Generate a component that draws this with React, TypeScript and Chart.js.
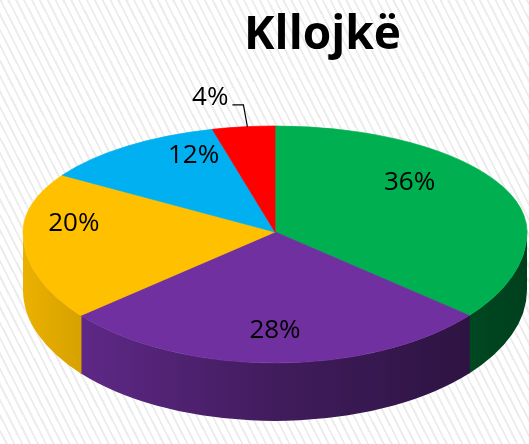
import React, { useEffect, useRef } from "react";
import { Chart, registerables } from "chart.js";

Chart.register(...registerables);

// ---- data ----
const categories = ["Kategoria 1", "Kategoria 2", "Kategoria 3", "Kategoria 4", "Kategoria 5"];
const values = [36, 28, 20, 12, 4];
const sliceColors = ["#00B050", "#7030A0", "#FFC000", "#00B0F0", "#FF0000"];
const percentLabels = ["36%", "28%", "20%", "12%", "4%"];
const chartTitle = "Kllojkë";

// ---- 3D look (layout / style) ----
const CENTER_X = 275;
const CENTER_Y = 232;
const RADIUS = 252;
const RY_BACK = 106; // half-height of the far half of the top face
const RY_FRONT = 131; // half-height of the near half of the top face
const DEPTH = 58;
const LABEL_RADIUS = [0.59, 0.755, 0.8, 0.55, 1];
const LABEL_LIFT = 16;
const LABEL_FONT = "26px 'Open Sans', sans-serif";

function shade(hex: string, f: number): string {
  const n = parseInt(hex.slice(1), 16);
  const r = Math.round(((n >> 16) & 255) * f);
  const g = Math.round(((n >> 8) & 255) * f);
  const b = Math.round((n & 255) * f);
  return `rgb(${r},${g},${b})`;
}

let transformed = false;

function applyHalf(ctx: CanvasRenderingContext2D, arc: any, ry: number, front: boolean, w: number, h: number) {
  ctx.beginPath();
  if (front) ctx.rect(0, CENTER_Y - 0.5, w, h);
  else ctx.rect(0, 0, w, CENTER_Y + 0.5);
  ctx.clip();
  ctx.translate(CENTER_X, CENTER_Y);
  ctx.scale(1, ry / arc.outerRadius);
  ctx.translate(-arc.x, -arc.y);
}

const pie3dPlugin = {
  id: "pie3d",
  beforeDatasetsDraw(chart: any) {
    const meta = chart.getDatasetMeta(0);
    const arcs = meta.data as any[];
    if (!arcs.length) return;
    const ctx: CanvasRenderingContext2D = chart.ctx;
    const R = arcs[0].outerRadius;
    const bg = chart.data.datasets[0].backgroundColor as string[];
    const W = chart.width;
    const H = chart.height;

    // side wall of the near half
    ctx.save();
    arcs.forEach((arc, i) => {
      const a = Math.max(arc.startAngle - 0.004, 0);
      const b = Math.min(arc.endAngle + 0.004, Math.PI);
      if (b <= a) return;
      const g = ctx.createLinearGradient(CENTER_X - R, 0, CENTER_X + R, 0);
      const stops: [number, number][] = [
        [0, 0.92],
        [0.12, 0.84],
        [0.5, 0.58],
        [1, 0.36],
      ];
      stops.forEach(([t, f]) => g.addColorStop(t, shade(bg[i], f)));
      ctx.beginPath();
      ctx.ellipse(CENTER_X, CENTER_Y, R, RY_FRONT, 0, a, b, false);
      ctx.ellipse(CENTER_X, CENTER_Y + DEPTH, R, RY_FRONT, 0, b, a, true);
      ctx.closePath();
      ctx.fillStyle = g;
      ctx.fill();
    });
    ctx.restore();

    // near half of the top face
    ctx.save();
    applyHalf(ctx, arcs[0], RY_FRONT, true, W, H);
    arcs.forEach((arc) => arc.draw(ctx, chart.chartArea));
    ctx.restore();

    // far half of the top face: drawn by Chart.js's own dataset pass
    ctx.save();
    applyHalf(ctx, arcs[0], RY_BACK, false, W, H);
    transformed = true;
  },
  afterDatasetsDraw(chart: any) {
    const ctx: CanvasRenderingContext2D = chart.ctx;
    if (transformed) {
      ctx.restore();
      transformed = false;
    }
    const meta = chart.getDatasetMeta(0);
    const arcs = meta.data as any[];
    if (!arcs.length) return;
    const total = values.reduce((s, v) => s + v, 0);
    ctx.save();
    ctx.font = LABEL_FONT;
    ctx.fillStyle = "#000";
    ctx.strokeStyle = "#000";
    ctx.lineWidth = 1.2;
    ctx.textBaseline = "middle";
    arcs.forEach((arc, i) => {
      const R = arc.outerRadius;
      const m = (arc.startAngle + arc.endAngle) / 2;
      const s = Math.sin(m);
      const ry = s > 0 ? RY_FRONT : RY_BACK;
      const share = values[i] / total;
      if (share < 0.06) {
        const ex = CENTER_X + R * Math.cos(m);
        const ey = CENTER_Y + ry * s;
        ctx.beginPath();
        ctx.moveTo(ex + 4, ey);
        ctx.lineTo(ex, ey - 22);
        ctx.lineTo(ex - 11, ey - 22);
        ctx.stroke();
        ctx.textAlign = "right";
        ctx.fillText(percentLabels[i], ex - 15, ey - 29);
      } else {
        const f = LABEL_RADIUS[i];
        const lift = -LABEL_LIFT * (1 - s);
        const x = CENTER_X + R * f * Math.cos(m);
        const y = CENTER_Y + ry * f * s + lift;
        ctx.textAlign = "center";
        ctx.fillText(percentLabels[i], x, y);
      }
    });
    ctx.restore();
  },
};

export default function App() {
  const canvasRef = useRef<HTMLCanvasElement | null>(null);

  useEffect(() => {
    if (!canvasRef.current) return;
    const chart = new Chart(canvasRef.current, {
      type: "pie",
      data: {
        labels: categories,
        datasets: [
          {
            data: values,
            backgroundColor: sliceColors,
            borderColor: sliceColors,
            borderWidth: 1,
            radius: RADIUS,
            clip: false,
          } as any,
        ],
      },
      options: {
        animation: false,
        responsive: true,
        maintainAspectRatio: false,
        events: [],
        layout: { padding: { left: 116 } },
        plugins: {
          legend: { display: false },
          tooltip: { enabled: false },
          title: {
            display: true,
            text: chartTitle,
            color: "#000",
            font: { family: "'Open Sans', sans-serif", size: 46, weight: "bold" },
            padding: { top: 8, bottom: 0 },
          },
        },
      },
      plugins: [pie3dPlugin as any],
    });
    return () => chart.destroy();
  }, []);

  return (
    <div
      style={{
        position: "fixed",
        left: 0,
        top: 0,
        width: 529,
        height: 444,
        background:
          "repeating-linear-gradient(63deg, #ffffff 0px, #ffffff 5px, #ededed 5px, #ededed 7px)",
      }}
    >
      <canvas ref={canvasRef} />
    </div>
  );
}
